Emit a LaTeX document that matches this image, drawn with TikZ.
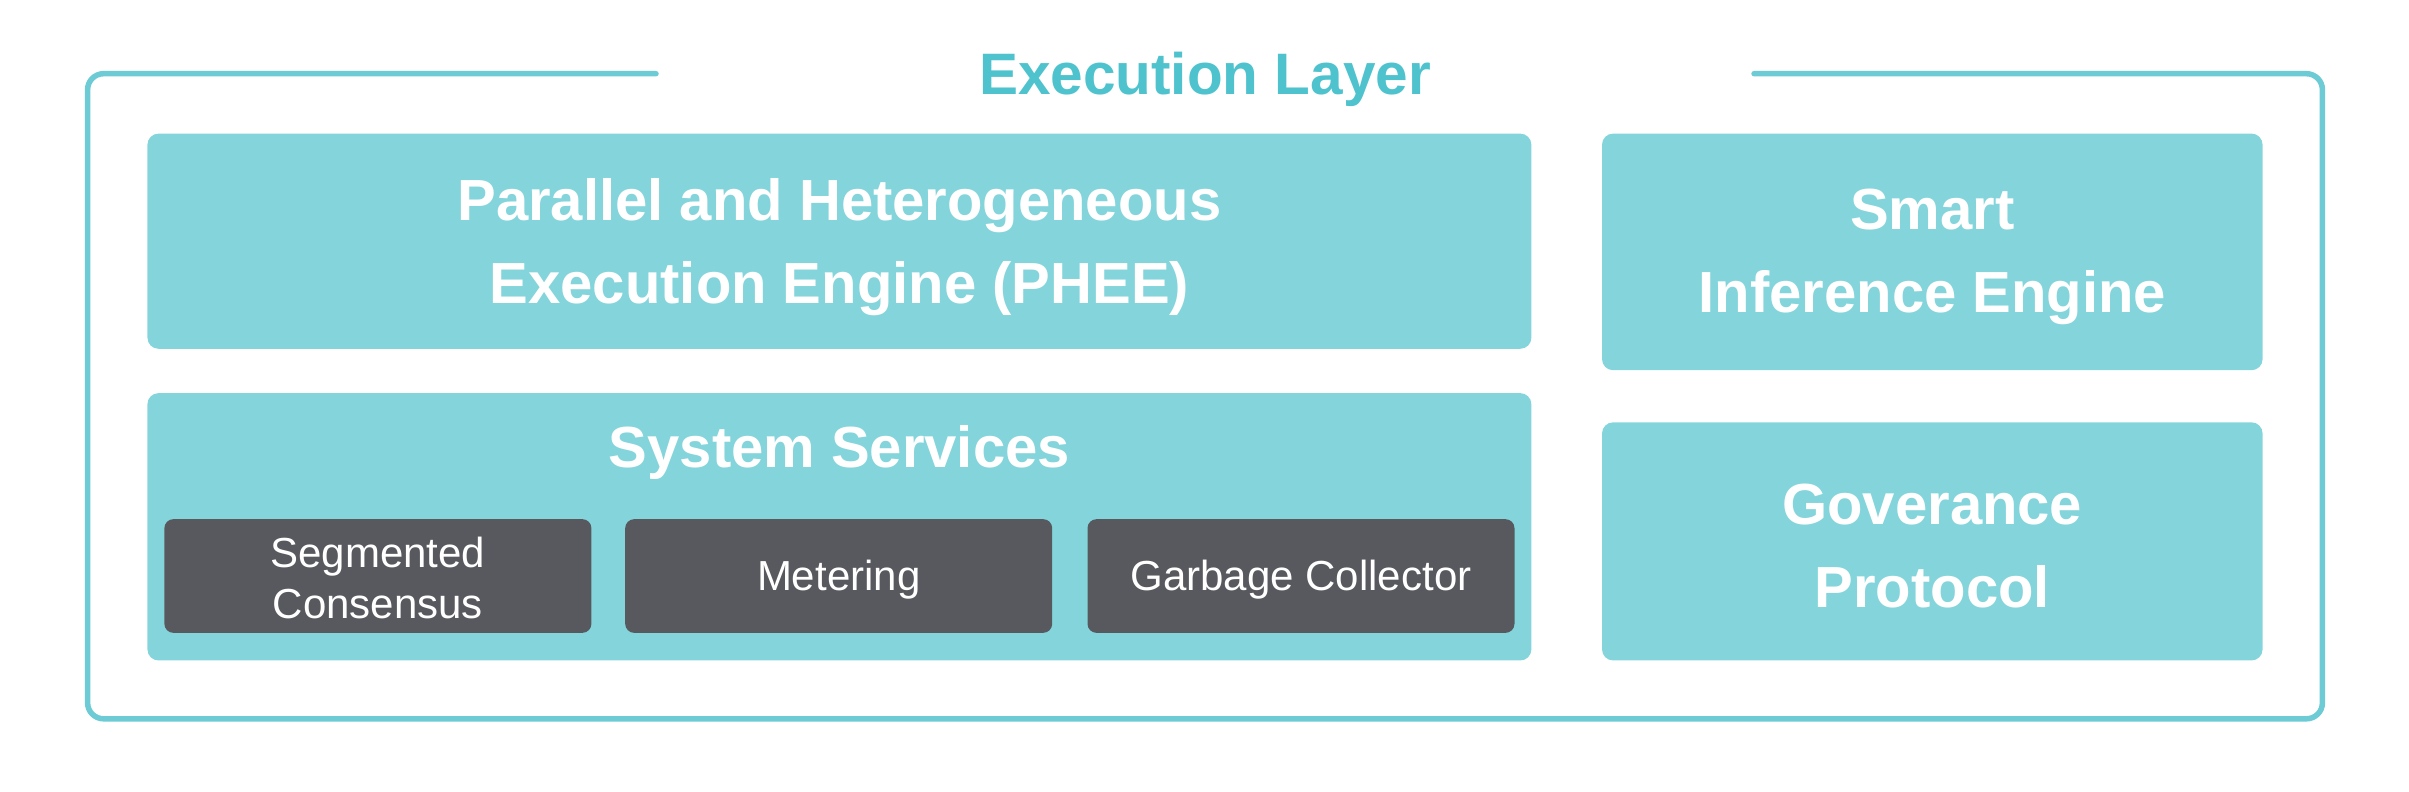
\documentclass[tikz,border=0pt]{standalone}
\usepackage{fontspec}
\setmainfont{Liberation Sans}
\definecolor{boxteal}{HTML}{84D5DB}
\definecolor{frameteal}{HTML}{6CCBD4}
\definecolor{titleteal}{HTML}{4EC3CE}
\definecolor{darkbox}{HTML}{58595E}
\begin{document}
\begin{tikzpicture}[x=1pt,y=-1pt,
  tealbox/.style={fill=boxteal, rounded corners=11pt, inner sep=0pt},
  bigtext/.style={text=white, inner sep=0pt, font=\bfseries\fontsize{58}{83}\selectfont, align=center},
  darkbx/.style={fill=darkbox, rounded corners=9pt, inner sep=0pt,
    minimum width=427pt, minimum height=113.7pt},
  smalltext/.style={text=white, inner sep=0pt, font=\fontsize{42}{51}\selectfont, align=center},
  framepath/.style={draw=frameteal, line width=5.5pt, rounded corners=16pt, line cap=round},
  titletext/.style={text=titleteal, font=\bfseries\fontsize{58.5}{70}\selectfont, inner sep=0pt}]
\useasboundingbox (0,0) rectangle (2409,792);
% outer frame with gap for the title
\coordinate (gl) at (656,73.7);
\coordinate (gr) at (1754,73.7);
\draw[framepath] (gl) -- (87.6,73.7) -- (87.6,718.8) -- (2322.4,718.8) -- (2322.4,73.7) -- (gr);
\node[titletext, anchor=base] (title) at (1205,94.5) {Execution Layer};
% boxes
\node[tealbox, minimum width=1383.9pt, minimum height=215.1pt] (phee) at (839.4,241.2) {};
\node[bigtext] (pheet) at ([yshift=-6pt]phee.center) {Parallel and Heterogeneous\\Execution Engine (PHEE)};
\node[tealbox, minimum width=660.5pt, minimum height=236.6pt] (smart) at (1932.3,251.9) {};
\node[bigtext] (smartt) at ([yshift=-5pt]smart.center) {Smart\\Inference Engine};
\node[tealbox, minimum width=1383.9pt, minimum height=267.3pt] (sys) at (839.4,526.8) {};
\node[bigtext, anchor=base] (systitle) at (839.4,467.4) {System Services};
\node[tealbox, minimum width=660.5pt, minimum height=238.1pt] (gov) at (1932.3,541.4) {};
\node[bigtext] (govt) at ([yshift=-5pt]gov.center) {Goverance\\Protocol};
\node[darkbx] (seg) at (377.9,576) {};
\node[smalltext] (segt) at ([yshift=-2pt]seg.center) {Segmented\\Consensus};
\node[darkbx] (met) at (838.7,576) {};
\node[smalltext] (mett) at ([yshift=-4pt]met.center) {Metering};
\node[darkbx] (gc) at (1301,576) {};
\node[smalltext] (gct) at ([yshift=-4pt]gc.center) {Garbage Collector};
\end{tikzpicture}
\end{document}
